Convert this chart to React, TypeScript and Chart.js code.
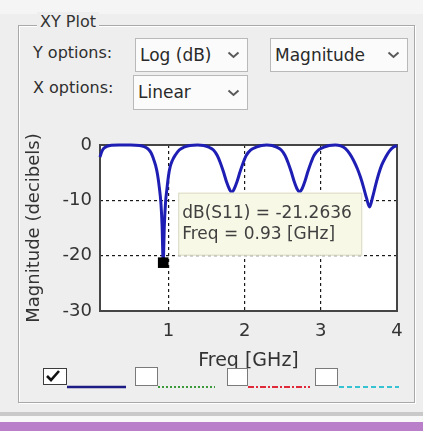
import React, { useEffect, useRef } from "react";
import { Chart, registerables } from "chart.js";

Chart.register(...registerables);

// ---- data ----
const freqGHz = [
  0.1, 0.12, 0.15, 0.19, 0.25, 0.35, 0.5, 0.62, 0.68, 0.73, 0.77, 0.8, 0.83, 0.855, 0.88, 0.9, 0.915,
  0.93, 0.945, 0.96, 0.98, 1.0, 1.02, 1.05, 1.09, 1.14, 1.2, 1.28, 1.38,
  1.46, 1.53, 1.59, 1.64, 1.68, 1.72, 1.76, 1.8, 1.83, 1.86, 1.9, 1.94, 1.98, 2.02, 2.08, 2.15, 2.22, 2.29,
  2.36, 2.42, 2.48, 2.53, 2.57, 2.61, 2.65, 2.69, 2.72, 2.75, 2.79, 2.83, 2.87, 2.91, 2.97, 3.04, 3.11, 3.19,
  3.26, 3.32, 3.38, 3.43, 3.48, 3.52, 3.56, 3.6, 3.64, 3.68, 3.72, 3.76, 3.8, 3.85, 3.9, 3.95, 4.0,
];
const s11dB = [
  -2.2, -1.3, -0.6, -0.25, -0.05, 0, 0, -0.1, -0.3, -0.7, -1.4, -2.4, -3.7, -5.3, -7.8, -10.5, -14.5,
  -21.2636, -14.5, -10.5, -7.8, -5.5, -4.0, -2.8, -1.8, -0.9, -0.4, -0.1, 0,
  -0.1, -0.4, -0.9, -1.9, -3.2, -4.8, -6.6, -8.0, -8.6, -8.0, -6.6, -4.8, -3.2, -1.9, -0.9, -0.4, -0.1, 0,
  -0.1, -0.4, -0.9, -1.9, -3.2, -4.8, -6.6, -8.0, -8.5, -8.0, -6.6, -4.8, -3.2, -1.9, -0.9, -0.4, -0.1, 0,
  -0.15, -0.6, -1.6, -2.8, -4.3, -5.8, -7.6, -9.6, -11.2, -9.4, -7.2, -5.2, -3.6, -2.2, -1.1, -0.4, -0.1,
];
const markerFreq = [0.93];
const markerDB = [-21.2636];
const xTicks = [1, 2, 3, 4];
const yTicks = [0, -10, -20, -30];
const tipLines = ["dB(S11) = -21.2636", "Freq = 0.93 [GHz]"];

const FONT = "'DejaVu Sans', sans-serif";

const framePlugin = {
  id: "frame",
  beforeDraw(chart: any) {
    const { ctx, chartArea: a } = chart;
    ctx.save();
    ctx.fillStyle = "#ffffff";
    ctx.fillRect(a.left, a.top, a.right - a.left, a.bottom - a.top);
    ctx.restore();
  },
  beforeDatasetsDraw(chart: any) {
    const { ctx, chartArea: a } = chart;
    ctx.save();
    ctx.strokeStyle = "#454545";
    ctx.lineWidth = 2;
    ctx.strokeRect(a.left, a.top, a.right - a.left, a.bottom - a.top);
    ctx.restore();
  },
  afterDatasetsDraw(chart: any) {
    const { ctx } = chart;
    const px = chart.scales.x.getPixelForValue(markerFreq[0]);
    const py = chart.scales.y.getPixelForValue(markerDB[0]);
    const left = px + 15;
    const top = py - 70;
    const w = 184;
    const h = 63;
    ctx.save();
    ctx.fillStyle = "#f8f8e6";
    ctx.fillRect(left, top, w, h);
    ctx.strokeStyle = "#d9d9c6";
    ctx.lineWidth = 1;
    ctx.strokeRect(left + 0.5, top + 0.5, w - 1, h - 1);
    ctx.fillStyle = "#404040";
    ctx.font = `17px ${FONT}`;
    ctx.textBaseline = "middle";
    ctx.textAlign = "left";
    ctx.fillText(tipLines[0], left + 4, top + 21);
    ctx.fillText(tipLines[1], left + 4, top + 42);
    ctx.restore();
  },
};

function Chevron({ x, y }: { x: number; y: number }) {
  return (
    <svg
      width={13}
      height={8}
      style={{ position: "absolute", left: x - 6, top: y - 4 }}
    >
      <polyline points="1.5,1.5 6.5,6 11.5,1.5" fill="none" stroke="#5a5a5a" strokeWidth={2} />
    </svg>
  );
}

function Drop({ left, top, width, height, text, chevX }: any) {
  return (
    <>
      <div
        style={{
          position: "absolute",
          left,
          top,
          width,
          height,
          boxSizing: "border-box",
          border: "1px solid #b9b9b9",
          background: "#fbfbfb",
          fontSize: 17,
          lineHeight: `${height - 2}px`,
          paddingLeft: 4,
          color: "#2a2a2a",
          whiteSpace: "nowrap",
        }}
      >
        {text}
      </div>
      <Chevron x={chevX} y={top + height / 2} />
    </>
  );
}

export default function App() {
  const ref = useRef<HTMLCanvasElement>(null);

  useEffect(() => {
    const canvas = ref.current;
    if (!canvas) return;
    const tickFont = { family: FONT, size: 18 };
    const chart = new Chart(canvas, {
      type: "line",
      data: {
        datasets: [
          {
            label: "marker",
            data: markerFreq.map((f, i) => ({ x: f, y: markerDB[i] })),
            showLine: false,
            pointStyle: "rect",
            pointRadius: 7.5,
            pointBackgroundColor: "#000000",
            pointBorderWidth: 0,
            order: 0,
          },
          {
            label: "dB(S11)",
            data: freqGHz.map((f, i) => ({ x: f, y: s11dB[i] })),
            borderColor: "#1e1eb4",
            borderWidth: 3,
            pointRadius: 0,
            cubicInterpolationMode: "monotone",
            order: 1,
            clip: 4,
          },
        ],
      } as any,
      options: {
        animation: false,
        responsive: false,
        devicePixelRatio: 1,
        events: [],
        layout: { padding: { top: 20, right: 16, left: 0, bottom: 0 } },
        plugins: { legend: { display: false }, tooltip: { enabled: false } },
        scales: {
          x: {
            type: "linear",
            min: 0.1,
            max: 4,
            afterBuildTicks: (s: any) => {
              s.ticks = xTicks.map((v) => ({ value: v }));
            },
            afterFit: (s: any) => {
              s.height = 62;
            },
            grid: { color: "#1a1a1a", lineWidth: 1.2, drawTicks: false },
            border: { display: false, dash: [3, 3] },
            ticks: { color: "#333333", font: tickFont, padding: 10 },
            title: {
              display: true,
              text: "Freq [GHz]",
              color: "#333333",
              font: { family: FONT, size: 19 },
              padding: { top: 0, bottom: 1 },
            },
          },
          y: {
            type: "linear",
            min: -30,
            max: 0,
            afterBuildTicks: (s: any) => {
              s.ticks = yTicks.map((v) => ({ value: v }));
            },
            afterFit: (s: any) => {
              s.width = 82;
            },
            grid: { color: "#1a1a1a", lineWidth: 1.2, drawTicks: false },
            border: { display: false, dash: [3, 3] },
            ticks: { color: "#333333", font: tickFont, padding: 8 },
            title: {
              display: true,
              text: "Magnitude (decibels)",
              color: "#333333",
              font: { family: FONT, size: 18 },
              padding: { top: 6, bottom: 0 },
            },
          },
        },
      } as any,
      plugins: [framePlugin],
    });
    return () => chart.destroy();
  }, []);

  return (
    <div
      style={{
        position: "fixed",
        left: 0,
        top: 0,
        width: 423,
        height: 431,
        overflow: "hidden",
        background: "#eeeeee",
        fontFamily: FONT,
        color: "#333",
      }}
    >
      <div style={{ position: "absolute", left: 0, top: 0, width: 423, height: 14, background: "#f5f5f5" }} />
      {/* group box */}
      <div
        style={{
          position: "absolute",
          left: 18,
          top: 25,
          width: 397,
          height: 378,
          boxSizing: "border-box",
          border: "1px solid #a9a9a9",
          boxShadow: "inset 1px 1px 0 #ffffff, 1px 1px 0 #ffffff",
        }}
      />
      <div
        style={{
          position: "absolute",
          left: 37,
          top: 12,
          lineHeight: "20px",
          fontSize: 16,
          padding: "0 3px",
          background: "#eeeeee",
          color: "#333",
        }}
      >
        XY Plot
      </div>
      <div style={{ position: "absolute", left: 33, top: 43, lineHeight: "20px", fontSize: 16, color: "#2e2e2e" }}>
        Y options:
      </div>
      <div style={{ position: "absolute", left: 33, top: 78, lineHeight: "20px", fontSize: 16, color: "#2e2e2e" }}>
        X options:
      </div>
      <Drop left={135} top={38} width={113} height={34} text="Log (dB)" chevX={233} />
      <Drop left={270} top={38} width={138} height={34} text="Magnitude" chevX={393} />
      <Drop left={133} top={75} width={115} height={35} text="Linear" chevX={233} />

      <canvas
        ref={ref}
        width={395}
        height={248}
        style={{ position: "absolute", left: 18, top: 125, width: 395, height: 248 }}
      />

      {/* series selector row */}
      <svg width={423} height={40} style={{ position: "absolute", left: 0, top: 360 }}>
        <rect x={43.5} y={8.5} width={23} height={16} fill="#ffffff" stroke="#3c3c3c" strokeWidth={1} />
        <polyline points="47,16 51,20 59,11" fill="none" stroke="#111" strokeWidth={2.6} />
        <line x1={67} y1={27} x2={126} y2={27} stroke="#1c1c84" strokeWidth={2.5} />

        <rect x={135.5} y={7.5} width={22} height={18} fill="#ffffff" stroke="#7a7a7a" strokeWidth={1} />
        <line x1={158} y1={27} x2={215} y2={27} stroke="#3c9a3c" strokeWidth={2} strokeDasharray="2,2" />

        <rect x={227.5} y={8.5} width={20} height={17} fill="#ffffff" stroke="#7a7a7a" strokeWidth={1} />
        <line x1={248} y1={27} x2={310} y2={27} stroke="#e02a3a" strokeWidth={2} strokeDasharray="6,2,2,2" />

        <rect x={315.5} y={8.5} width={22} height={17} fill="#ffffff" stroke="#7a7a7a" strokeWidth={1} />
        <line x1={339} y1={27} x2={399} y2={27} stroke="#35c3d3" strokeWidth={2} strokeDasharray="5,3" />
      </svg>

      {/* bottom bands */}
      <div style={{ position: "absolute", left: 0, top: 412, width: 423, height: 4, background: "#c9c9c9" }} />
      <div style={{ position: "absolute", left: 0, top: 416, width: 423, height: 6, background: "#f7f7f7" }} />
      <div style={{ position: "absolute", left: 0, top: 422, width: 423, height: 9, background: "#b97fc9" }} />
    </div>
  );
}
